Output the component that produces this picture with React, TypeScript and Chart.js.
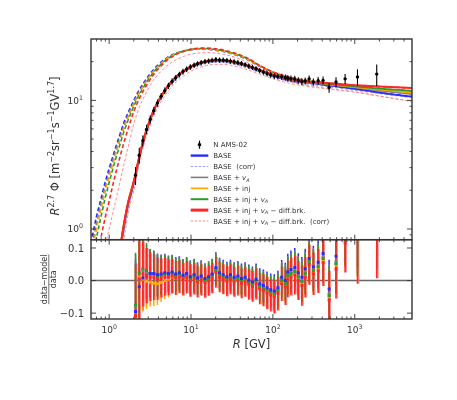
import React, { useEffect, useRef } from "react";
import { Chart, registerables } from "chart.js";

Chart.register(...registerables);

// ---------------- axis ranges & tick labels ----------------
const X_RANGE = [0.62, 5000];
const FLUX_RANGE = [0.826, 30];
const RES_RANGE = [-0.118, 0.1255];
const xMajorTicks = [1, 10, 100, 1000];
const xTickExponents = ["0", "1", "2", "3"];
const fluxMajorTicks = [1, 10];
const fluxTickExponents = ["0", "1"];
const resTicks = [-0.1, 0, 0.1];
const resTickLabels = ["\u22120.1", "0.0", "0.1"];

// ---------------- AMS-02 nitrogen data ----------------
const dataR = [2.1, 2.33, 2.58, 2.86, 3.17, 3.51, 3.89, 4.31, 4.78, 5.3, 5.87, 6.5, 7.2, 7.98, 8.84, 9.8, 10.9, 12.0, 13.3, 14.8, 16.4, 18.1, 20.1, 22.3, 24.7, 27.4, 30.3, 33.6, 37.3, 41.3, 45.8, 50.7, 56.2, 62.3, 69.0, 76.5, 84.8, 94.0, 104, 115, 128, 142, 152, 166, 185, 204, 226, 248, 277, 312, 357, 410, 486, 590, 762, 1079, 1854];
const dataFlux = [2.62, 3.75, 4.85, 5.95, 7.1, 8.3, 9.55, 10.75, 11.9, 13.0, 14.05, 15.0, 15.9, 16.75, 17.5, 18.15, 18.75, 19.25, 19.65, 20.0, 20.25, 20.45, 20.75, 20.6, 20.55, 20.4, 20.2, 19.95, 19.65, 19.35, 18.95, 18.5, 18.05, 17.6, 17.05, 16.6, 16.15, 15.75, 15.45, 15.35, 15.3, 15.05, 14.85, 14.75, 14.65, 14.3, 14.0, 14.15, 14.7, 13.9, 14.2, 14.3, 12.6, 13.9, 14.7, 15.2, 16.0];
const relErr = [0.16, 0.14, 0.1, 0.085, 0.075, 0.07, 0.065, 0.06, 0.058, 0.055, 0.053, 0.052, 0.051, 0.05, 0.05, 0.05, 0.049, 0.048, 0.048, 0.047, 0.047, 0.047, 0.047, 0.046, 0.046, 0.046, 0.046, 0.046, 0.046, 0.046, 0.046, 0.047, 0.047, 0.048, 0.048, 0.049, 0.05, 0.05, 0.051, 0.052, 0.053, 0.055, 0.056, 0.058, 0.06, 0.06, 0.062, 0.062, 0.062, 0.065, 0.068, 0.072, 0.09, 0.09, 0.09, 0.148, 0.19];

// ---------------- residuals (data-model)/data ----------------
const resRed = [-0.108, 0.005, 0.02, 0.015, 0.012, 0.01, 0.006, 0.008, 0.012, 0.01, 0.014, 0.008, 0.012, 0.004, 0.01, 0.0, 0.006, -0.004, 0.002, -0.006, 0.0, 0.008, 0.025, 0.01, 0.004, -0.002, 0.004, -0.004, 0.0, -0.008, -0.004, -0.012, -0.018, -0.01, -0.025, -0.03, -0.038, -0.045, -0.05, -0.04, -0.01, -0.02, 0.005, 0.012, 0.017, 0.0, -0.015, 0.01, 0.049, 0.021, 0.03, 0.055, -0.06, 0.035, 0.115, 0.138, 0.197];
const resBlue = [-0.095, -0.019, 0.008, 0.015, 0.022, 0.022, 0.018, 0.02, 0.024, 0.022, 0.026, 0.02, 0.024, 0.016, 0.022, 0.012, 0.018, 0.008, 0.014, 0.006, 0.012, 0.02, 0.04, 0.024, 0.018, 0.012, 0.018, 0.01, 0.014, 0.006, 0.01, 0.002, -0.004, 0.004, -0.01, -0.015, -0.022, -0.028, -0.032, -0.022, 0.01, 0.0, 0.026, 0.034, 0.04, 0.024, 0.01, 0.036, 0.068, 0.042, 0.056, 0.083, -0.026, 0.075, 0.16, 0.19, 0.26];
const resGray = [-0.08, 0.0, 0.03, 0.025, 0.022, 0.02, 0.016, 0.018, 0.022, 0.02, 0.024, 0.018, 0.022, 0.014, 0.02, 0.01, 0.016, 0.006, 0.012, 0.004, 0.01, 0.018, 0.035, 0.02, 0.014, 0.008, 0.014, 0.006, 0.01, 0.002, 0.006, -0.002, -0.008, 0.0, -0.015, -0.02, -0.028, -0.034, -0.038, -0.028, 0.004, -0.006, 0.019, 0.026, 0.032, 0.015, 0.0, 0.026, 0.062, 0.035, 0.046, 0.072, -0.04, 0.058, 0.14, 0.17, 0.23];
const resOrange = [-0.12, 0.01, 0.005, -0.002, -0.005, -0.008, -0.01, -0.006, 0.0, 0.004, 0.012, 0.008, 0.014, 0.006, 0.012, 0.003, 0.009, 0.0, 0.006, -0.002, 0.004, 0.012, 0.03, 0.014, 0.008, 0.002, 0.008, 0.0, 0.004, -0.004, 0.0, -0.008, -0.014, -0.006, -0.021, -0.026, -0.034, -0.04, -0.045, -0.035, -0.004, -0.014, 0.011, 0.018, 0.024, 0.007, -0.008, 0.017, 0.055, 0.028, 0.038, 0.064, -0.05, 0.048, 0.13, 0.16, 0.22];
const resGreen = [-0.075, 0.024, 0.036, 0.03, 0.022, 0.02, 0.015, 0.016, 0.02, 0.018, 0.022, 0.016, 0.02, 0.012, 0.018, 0.008, 0.014, 0.004, 0.01, 0.002, 0.008, 0.016, 0.033, 0.018, 0.012, 0.006, 0.012, 0.004, 0.008, 0.0, 0.004, -0.004, -0.01, -0.002, -0.017, -0.022, -0.03, -0.036, -0.041, -0.031, 0.0, -0.01, 0.015, 0.022, 0.028, 0.011, -0.004, 0.021, 0.058, 0.031, 0.042, 0.068, -0.046, 0.052, 0.133, 0.162, 0.225];

// ---------------- model curves (R^2.7 flux) ----------------
const modelR = [0.6, 0.7, 0.8, 0.9, 1.0, 1.1, 1.2, 1.35, 1.5, 1.7, 2.0, 2.3, 2.6, 3.0, 3.5, 4.0, 5.0, 6.0, 7.0, 8.5, 10, 12, 15, 20, 25, 30, 40, 50, 70, 100, 150, 200, 300, 500, 1000, 2000, 5000];
// interstellar (unmodulated), dashed
const lisBlue = [0.78, 1.25, 1.75, 2.35, 2.95, 3.6, 4.3, 5.4, 6.6, 8.0, 10.0, 11.9, 13.5, 15.4, 17.4, 19.0, 21.3, 22.7, 23.6, 24.4, 24.8, 25.0, 25.0, 24.6, 24.0, 23.3, 21.9, 20.6, 18.3, 16.4, 15.0, 14.35, 13.8, 13.1, 12.35, 11.5, 10.7];
const lisGray = [0.68, 1.1, 1.58, 2.15, 2.72, 3.35, 4.02, 5.1, 6.25, 7.65, 9.65, 11.5, 13.1, 15.0, 17.0, 18.6, 21.0, 22.5, 23.4, 24.3, 24.8, 25.0, 25.0, 24.6, 24.0, 23.4, 22.0, 20.7, 18.4, 16.45, 15.1, 14.45, 13.9, 13.35, 12.65, 11.9, 11.2];
const lisOrange = [0.6, 1.0, 1.45, 1.98, 2.55, 3.15, 3.8, 4.85, 5.95, 7.35, 9.35, 11.2, 12.8, 14.8, 16.8, 18.4, 20.9, 22.4, 23.4, 24.3, 24.9, 25.2, 25.2, 24.8, 24.2, 23.5, 22.1, 20.8, 18.5, 16.55, 15.2, 14.55, 14.0, 13.45, 12.75, 12.1, 11.45];
const lisGreen = [0.5, 0.85, 1.27, 1.77, 2.3, 2.88, 3.5, 4.5, 5.6, 7.0, 9.0, 10.9, 12.5, 14.5, 16.6, 18.2, 20.8, 22.3, 23.4, 24.3, 24.9, 25.2, 25.3, 24.9, 24.3, 23.6, 22.2, 20.9, 18.55, 16.6, 15.25, 14.6, 14.05, 13.55, 12.9, 12.35, 11.85];
const lisRed = [0.35, 0.6, 0.88, 1.25, 1.65, 2.15, 2.7, 3.6, 4.6, 6.0, 8.2, 10.1, 11.8, 13.8, 15.9, 17.6, 20.3, 22.0, 23.2, 24.3, 25.0, 25.4, 25.5, 25.2, 24.6, 23.9, 22.5, 21.2, 18.6, 16.65, 15.3, 14.65, 14.1, 13.65, 13.15, 12.8, 12.5];
const lisCorr = [null, null, null, 0.76, 1.0, 1.3, 1.65, 2.3, 3.1, 4.3, 6.6, 8.6, 10.3, 12.3, 14.4, 16.0, 18.4, 20.0, 21.1, 22.2, 22.9, 23.3, 23.5, 23.3, 22.8, 22.2, 20.9, 19.6, 17.3, 15.45, 14.2, 13.5, 12.9, 12.3, 11.65, 10.8, 9.8];
// modulated (top of atmosphere)
const modBlue = [null, null, null, null, null, null, 0.36, 0.63, 1.0, 1.53, 2.28, 3.42, 4.75, 6.35, 8.3, 9.85, 12.35, 14.25, 15.65, 17.1, 18.2, 19.1, 19.9, 20.3, 20.25, 19.95, 19.1, 18.3, 16.95, 15.6, 14.5, 14.0, 13.6, 13.0, 12.3, 11.5, 10.7];
const modBlueCorr = [null, null, null, null, null, null, 0.33, 0.58, 0.93, 1.43, 2.15, 3.25, 4.55, 6.1, 8.0, 9.5, 11.95, 13.8, 15.2, 16.6, 17.7, 18.6, 19.35, 19.75, 19.7, 19.4, 18.6, 17.8, 16.5, 15.2, 14.15, 13.65, 13.25, 12.7, 12.0, 11.3, 10.5];
const modGray = [null, null, null, null, null, null, 0.38, 0.66, 1.03, 1.57, 2.32, 3.46, 4.8, 6.4, 8.35, 9.9, 12.4, 14.3, 15.7, 17.15, 18.25, 19.15, 19.95, 20.35, 20.3, 20.0, 19.15, 18.35, 17.0, 15.65, 14.6, 14.1, 13.7, 13.2, 12.6, 11.9, 11.2];
const modOrange = [null, null, null, null, null, null, 0.42, 0.7, 1.07, 1.62, 2.38, 3.55, 4.9, 6.5, 8.45, 10.0, 12.45, 14.35, 15.75, 17.2, 18.3, 19.25, 20.05, 20.45, 20.4, 20.1, 19.25, 18.45, 17.1, 15.75, 14.7, 14.2, 13.8, 13.3, 12.7, 12.1, 11.45];
const modGreen = [null, null, null, null, null, null, 0.4, 0.68, 1.04, 1.58, 2.33, 3.47, 4.82, 6.42, 8.38, 9.92, 12.4, 14.35, 15.75, 17.2, 18.3, 19.25, 20.05, 20.45, 20.4, 20.1, 19.3, 18.5, 17.15, 15.8, 14.75, 14.25, 13.85, 13.4, 12.85, 12.35, 11.85];
const modRed = [null, null, null, null, null, null, 0.4, 0.68, 1.05, 1.6, 2.35, 3.5, 4.85, 6.45, 8.4, 9.95, 12.45, 14.4, 15.8, 17.3, 18.4, 19.35, 20.15, 20.55, 20.5, 20.2, 19.35, 18.55, 17.2, 15.85, 14.8, 14.3, 13.9, 13.5, 13.1, 12.8, 12.5];
const modRedCorr = [null, null, null, null, null, null, null, 0.5, 0.8, 1.3, 2.0, 3.05, 4.25, 5.75, 7.55, 9.0, 11.3, 13.1, 14.4, 15.8, 16.9, 17.8, 18.6, 19.05, 19.05, 18.8, 18.0, 17.25, 15.95, 14.7, 13.7, 13.2, 12.7, 12.2, 11.6, 10.8, 9.8];

// ---------------- legend / axis text ----------------
type Seg = { t: string; sup?: boolean; sub?: boolean; it?: boolean };
const legendLabels: Seg[][] = [
  [{ t: "N AMS-02" }],
  [{ t: "BASE" }],
  [{ t: "BASE  (corr)" }],
  [{ t: "BASE + " }, { t: "v", it: true }, { t: "A", sub: true, it: true }],
  [{ t: "BASE + inj" }],
  [{ t: "BASE + inj + " }, { t: "v", it: true }, { t: "A", sub: true, it: true }],
  [{ t: "BASE + inj + " }, { t: "v", it: true }, { t: "A", sub: true, it: true }, { t: " \u2212 diff.brk." }],
  [{ t: "BASE + inj + " }, { t: "v", it: true }, { t: "A", sub: true, it: true }, { t: " \u2212 diff.brk.  (corr)" }],
];
const yTitle: Seg[] = [
  { t: "R", it: true }, { t: "2.7", sup: true }, { t: " \u03A6 [m" }, { t: "\u22122", sup: true },
  { t: "sr" }, { t: "\u22121", sup: true }, { t: "s" }, { t: "\u22121", sup: true }, { t: "GV" },
  { t: "1.7", sup: true }, { t: "]" },
];
const xTitle: Seg[] = [{ t: "R", it: true }, { t: " [GV]" }];
const resNum = "data\u2212model";
const resDen = "data";

// ---------------- styles ----------------
const C = {
  blue: "#2b2bff",
  lightBlue: "#a0a0ff",
  gray: "#808080",
  orange: "#ffa500",
  green: "#2c9a2c",
  red: "#ff2626",
  lightRed: "#ff8c8c",
  axis: "#333333",
  text: "#333333",
};
const FONT = '"DejaVu Sans", sans-serif';

function segFont(size: number, s: Seg) {
  const sz = s.sup || s.sub ? size * 0.7 : size;
  return `${s.it ? "italic " : ""}${sz}px ${FONT}`;
}
function richWidth(ctx: CanvasRenderingContext2D, segs: Seg[], size: number) {
  let w = 0;
  for (const s of segs) {
    ctx.font = segFont(size, s);
    w += ctx.measureText(s.t).width;
  }
  return w;
}
function drawRich(ctx: CanvasRenderingContext2D, segs: Seg[], x: number, y: number, size: number, align: string) {
  const w = richWidth(ctx, segs, size);
  let cx = align === "left" ? x : align === "center" ? x - w / 2 : x - w;
  ctx.textAlign = "left";
  ctx.textBaseline = "alphabetic";
  for (const s of segs) {
    ctx.font = segFont(size, s);
    const dy = s.sup ? -size * 0.42 : s.sub ? size * 0.22 : 0;
    ctx.fillText(s.t, cx, y + dy);
    cx += ctx.measureText(s.t).width;
  }
}
function seg(ctx: CanvasRenderingContext2D, x1: number, y1: number, x2: number, y2: number) {
  ctx.beginPath();
  ctx.moveTo(x1, y1);
  ctx.lineTo(x2, y2);
  ctx.stroke();
}

const legendHandles = [
  { kind: "err", color: "#000" },
  { color: C.blue, width: 2.4, dash: [] as number[] },
  { color: C.lightBlue, width: 1, dash: [2.5, 1.5] },
  { color: C.gray, width: 1.6, dash: [] },
  { color: C.orange, width: 1.6, dash: [] },
  { color: C.green, width: 2, dash: [] },
  { color: C.red, width: 3, dash: [] },
  { color: C.lightRed, width: 1, dash: [2.5, 1.5] },
];

const decorPlugin = {
  id: "decor",
  afterDraw(chart: any) {
    const ctx: CanvasRenderingContext2D = chart.ctx;
    const xs = chart.scales.x;
    const yt = chart.scales.y;
    const yb = chart.scales.yres;
    const L = xs.left;
    const R = xs.right;
    ctx.save();
    ctx.strokeStyle = C.axis;
    ctx.fillStyle = C.text;
    ctx.lineWidth = 0.9;

    const xMinor: number[] = [];
    for (const d of [0.1, 1, 10, 100, 1000])
      for (let m = 2; m <= 9; m++) {
        const v = m * d;
        if (v > X_RANGE[0] && v < X_RANGE[1]) xMinor.push(v);
      }
    for (const sc of [yt, yb]) {
      for (const v of xMajorTicks) {
        const p = xs.getPixelForValue(v);
        seg(ctx, p, sc.top, p, sc.top + 5);
        seg(ctx, p, sc.bottom, p, sc.bottom - 5);
      }
      for (const v of xMinor) {
        const p = xs.getPixelForValue(v);
        seg(ctx, p, sc.top, p, sc.top + 2.5);
        seg(ctx, p, sc.bottom, p, sc.bottom - 2.5);
      }
    }
    const yMinor: number[] = [];
    for (const d of [0.1, 1, 10])
      for (let m = 2; m <= 9; m++) {
        const v = m * d;
        if (v > FLUX_RANGE[0] && v < FLUX_RANGE[1] - 1e-6) yMinor.push(v);
      }
    for (const v of fluxMajorTicks) {
      const p = yt.getPixelForValue(v);
      seg(ctx, L, p, L + 5, p);
      seg(ctx, R, p, R - 5, p);
    }
    for (const v of yMinor) {
      const p = yt.getPixelForValue(v);
      seg(ctx, L, p, L + 2.5, p);
      seg(ctx, R, p, R - 2.5, p);
    }
    for (const v of resTicks) {
      const p = yb.getPixelForValue(v);
      seg(ctx, L, p, L + 5, p);
      seg(ctx, R, p, R - 5, p);
    }
    // frames
    ctx.lineWidth = 1.4;
    ctx.strokeRect(L, yt.top, R - L, yt.bottom - yt.top);
    ctx.strokeRect(L, yb.top, R - L, yb.bottom - yb.top);

    // tick labels
    const TFS = 9;
    xMajorTicks.forEach((v, i) => {
      const p = xs.getPixelForValue(v);
      drawRich(ctx, [{ t: "10" }, { t: xTickExponents[i], sup: true }], p, yb.bottom + 14, TFS, "center");
    });
    fluxMajorTicks.forEach((v, i) => {
      const p = yt.getPixelForValue(v);
      drawRich(ctx, [{ t: "10" }, { t: fluxTickExponents[i], sup: true }], L - 8, p + TFS * 0.36, TFS, "right");
    });
    resTicks.forEach((v, i) => {
      const p = yb.getPixelForValue(v);
      drawRich(ctx, [{ t: resTickLabels[i] }], L - 7, p + 10 * 0.36, 10, "right");
    });

    // axis titles
    drawRich(ctx, xTitle, (L + R) / 2, yb.bottom + 29, 11.5, "center");
    ctx.save();
    ctx.translate(47, 138);
    ctx.rotate(-Math.PI / 2);
    drawRich(ctx, yTitle, 0, 4, 11.5, "center");
    ctx.restore();

    ctx.save();
    ctx.translate(40.5, (yb.top + yb.bottom) / 2);
    ctx.rotate(-Math.PI / 2);
    const FFS = 8;
    ctx.font = `${FFS}px ${FONT}`;
    const nw = ctx.measureText(resNum).width;
    ctx.textAlign = "center";
    ctx.fillText(resNum, 0, -1.6);
    ctx.fillText(resDen, 0, 7.4);
    ctx.lineWidth = 0.7;
    ctx.strokeStyle = C.text;
    seg(ctx, -nw / 2, 0.3, nw / 2, 0.3);
    ctx.restore();

    // legend
    const hx0 = L + 99.7;
    const hx1 = L + 117.3;
    const tx = L + 122.3;
    legendLabels.forEach((lab, i) => {
      const y = yt.top + 105.7 + i * 10.9;
      const h: any = legendHandles[i];
      if (h.kind === "err") {
        const cx = (hx0 + hx1) / 2;
        ctx.strokeStyle = "#000";
        ctx.lineWidth = 1.2;
        seg(ctx, cx, y - 4, cx, y + 4);
        ctx.fillStyle = "#000";
        ctx.beginPath();
        ctx.arc(cx, y, 1.8, 0, Math.PI * 2);
        ctx.fill();
      } else {
        ctx.strokeStyle = h.color;
        ctx.lineWidth = h.width;
        ctx.setLineDash(h.dash);
        seg(ctx, hx0, y, hx1, y);
        ctx.setLineDash([]);
      }
      ctx.fillStyle = C.text;
      drawRich(ctx, lab, tx, y + 2.6, 7, "left");
    });
    ctx.restore();
  },
};

// ---------------- dataset helpers ----------------
function curve(ys: (number | null)[]) {
  const out: { x: number; y: number }[] = [];
  modelR.forEach((x, i) => {
    const y = ys[i];
    if (y !== null) out.push({ x, y });
  });
  return out;
}
function relBars(center: number[], xf: number) {
  const out: { x: number; y: number | null }[] = [];
  dataR.forEach((x, i) => {
    const s = center[i] * relErr[i];
    out.push({ x: x * xf, y: center[i] - s }, { x: x * xf, y: center[i] + s }, { x: x * xf, y: null });
  });
  return out;
}
function absBars(center: number[], xf: number) {
  const out: { x: number; y: number | null }[] = [];
  dataR.forEach((x, i) => {
    out.push({ x: x * xf, y: center[i] - relErr[i] }, { x: x * xf, y: center[i] + relErr[i] }, { x: x * xf, y: null });
  });
  return out;
}
function pts(ys: number[]) {
  return dataR.map((x, i) => ({ x, y: ys[i] }));
}

export default function App() {
  const ref = useRef<HTMLCanvasElement>(null);
  useEffect(() => {
    if (!ref.current) return;
    const base = { pointRadius: 0, fill: false, clip: 0, spanGaps: false, tension: 0 };
    const lis = (d: any, color: string, w = 1.6, dash = [4, 2.5]) => ({
      ...base, type: "line", data: curve(d), borderColor: color, borderWidth: w, borderDash: dash,
      cubicInterpolationMode: "monotone", yAxisID: "y",
    });
    const mod = (d: any, color: string, w = 1.7, dash: number[] = []) => ({
      ...base, type: "line", data: curve(d), borderColor: color, borderWidth: w, borderDash: dash,
      cubicInterpolationMode: "monotone", yAxisID: "y",
    });
    const bars = (data: any, color: string, w: number, yAxisID: string) => ({
      ...base, type: "line", data, borderColor: color, borderWidth: w, yAxisID,
    });
    const marks = (data: any, color: string, style: string, r: number, yAxisID: string) => ({
      ...base, type: "line", data, showLine: false, pointRadius: r, pointStyle: style,
      pointBackgroundColor: color, pointBorderColor: color, pointBorderWidth: 0, yAxisID,
    });

    // listed in drawing order (later = on top)
    const ordered: any[] = [
      lis(lisBlue, C.blue),
      lis(lisGray, C.gray),
      lis(lisOrange, C.orange),
      lis(lisGreen, C.green),
      lis(lisRed, C.red),
      lis(lisCorr, C.lightRed, 1, [3, 2]),
      mod(modBlueCorr, C.lightBlue, 1.1, [3, 2]),
      mod(modBlue, C.blue, 1.8),
      mod(modGray, C.gray, 1.6),
      mod(modOrange, C.orange, 1.6),
      mod(modGreen, C.green, 1.8),
      mod(modRed, C.red, 2),
      mod(modRedCorr, C.lightRed, 1, [3, 2]),
      bars(relBars(dataFlux, 1), "#000", 1.1, "y"),
      marks(pts(dataFlux), "#000", "circle", 1.7, "y"),
      // residual panel
      { ...base, type: "line", data: [{ x: 0.3, y: 0 }, { x: 10000, y: 0 }], borderColor: "#666666", borderWidth: 1.4, yAxisID: "yres" },
      bars(absBars(resRed, 1.035), "rgba(255,120,120,0.85)", 1.4, "yres"),
      bars(absBars(resBlue, 1), C.blue, 1.5, "yres"),
      bars(absBars(resGray, 1), C.gray, 1.5, "yres"),
      bars(absBars(resOrange, 1), C.orange, 1.5, "yres"),
      bars(absBars(resGreen, 1), C.green, 1.5, "yres"),
      bars(absBars(resRed, 1), C.red, 1.6, "yres"),
      marks(pts(resGray), C.gray, "rect", 2.1, "yres"),
      marks(pts(resOrange), C.orange, "rect", 2.1, "yres"),
      marks(pts(resGreen), C.green, "rect", 2.1, "yres"),
      marks(pts(resBlue), C.blue, "rect", 2.1, "yres"),
      marks(pts(resRed), C.red, "rect", 2.1, "yres"),
    ];
    const datasets = ordered.map((d, i) => ({ ...d, order: -i }));

    const hidden = {
      ticks: { display: false },
      grid: { display: false, drawTicks: false },
      border: { display: false },
    };
    const chart = new Chart(ref.current, {
      type: "line",
      data: { datasets },
      options: {
        responsive: false,
        animation: false,
        events: [],
        layout: { padding: { left: 83, right: 37, top: 31, bottom: 73 } },
        plugins: { legend: { display: false }, tooltip: { enabled: false }, title: { display: false } },
        scales: {
          x: { type: "logarithmic", axis: "x", min: X_RANGE[0], max: X_RANGE[1], position: "bottom", ...hidden },
          yres: { type: "linear", axis: "y", min: RES_RANGE[0], max: RES_RANGE[1], position: "left", stack: "panels", stackWeight: 1, ...hidden },
          y: { type: "logarithmic", axis: "y", min: FLUX_RANGE[0], max: FLUX_RANGE[1], position: "left", stack: "panels", stackWeight: 2.53, ...hidden },
        },
      } as any,
      plugins: [decorPlugin],
    } as any);
    return () => chart.destroy();
  }, []);
  return <canvas ref={ref} width={441} height={384} style={{ display: "block" }} />;
}
